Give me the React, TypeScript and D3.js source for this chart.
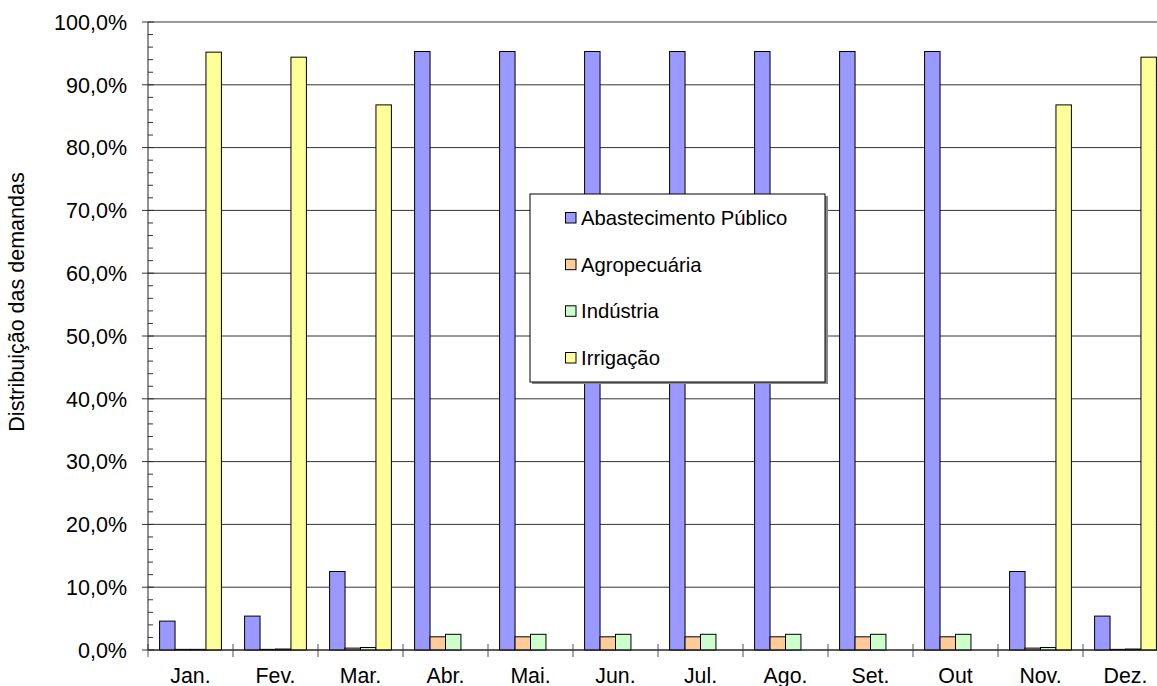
import React from "react";
import * as d3 from "d3";

const months = ["Jan.", "Fev.", "Mar.", "Abr.", "Mai.", "Jun.", "Jul.", "Ago.", "Set.", "Out", "Nov.", "Dez."];
const seriesNames = ["Abastecimento Público", "Agropecuária", "Indústria", "Irrigação"];
const seriesColors = ["#9999FF", "#FFCC99", "#CCFFCC", "#FFFF99"];
const abastecimento = [4.6, 5.4, 12.5, 95.3, 95.3, 95.3, 95.3, 95.3, 95.3, 95.3, 12.5, 5.4];
const agropecuaria = [0.1, 0.1, 0.3, 2.1, 2.1, 2.1, 2.1, 2.1, 2.1, 2.1, 0.3, 0.1];
const industria = [0.1, 0.15, 0.4, 2.5, 2.5, 2.5, 2.5, 2.5, 2.5, 2.5, 0.4, 0.15];
const irrigacao = [95.2, 94.4, 86.8, 0, 0, 0, 0, 0, 0, 0, 86.8, 94.4];
const yTicks = [0, 10, 20, 30, 40, 50, 60, 70, 80, 90, 100];

const W = 1157, H = 686;
const left = 148, top = 22, bottom = 650, right = 1168;

export default function App() {
  const x = d3.scaleBand<string>().domain(months).range([left, right]).paddingInner(0).paddingOuter(0);
  const y = d3.scaleLinear().domain([0, 100]).range([bottom, top]);
  const bw = x.bandwidth();
  const barW = bw / 5.5;
  const series = [abastecimento, agropecuaria, industria, irrigacao];
  const fmt = (v: number) => v.toFixed(1).replace(".", ",") + "%";
  const minor = d3.range(0, 100, 2).filter((v) => v % 10 !== 0);
  const font = "Arial, Liberation Sans, sans-serif";
  const legY = [225, 271.7, 318.3, 365];

  return (
    <svg width={W} height={H} style={{ position: "absolute", left: 0, top: 0, background: "#fff" }} fontFamily={font}>
      <rect x={0} y={0} width={W} height={H} fill="#fff" />
      {yTicks.map((t) => (
        <line key={"g" + t} x1={left} x2={right} y1={y(t)} y2={y(t)} stroke="#333" strokeWidth={1} />
      ))}
      {minor.map((t) => (
        <line key={"m" + t} x1={left} x2={left + 5} y1={y(t)} y2={y(t)} stroke="#333" strokeWidth={1} />
      ))}
      {yTicks.map((t) => (
        <g key={"yt" + t}>
          <line x1={left - 6} x2={left + 6} y1={y(t)} y2={y(t)} stroke="#333" strokeWidth={1} />
          <text x={127} y={y(t) + 7.8} textAnchor="end" fontSize={21.5} fill="#000">{fmt(t)}</text>
        </g>
      ))}
      {months.map((m, i) => (
        <g key={m}>
          {series.map((s, k) => {
            const v = s[i];
            if (v <= 0) return null;
            const bx = (x(m) as number) + barW * 0.75 + k * barW;
            return (
              <rect key={k} x={bx} y={y(v)} width={barW} height={bottom - y(v)} fill={seriesColors[k]} stroke="#000" strokeWidth={1} />
            );
          })}
          <line x1={x(m) as number} x2={x(m) as number} y1={bottom - 6} y2={bottom + 7} stroke="#555" strokeWidth={1} />
          <text x={(x(m) as number) + bw / 2} y={683} textAnchor="middle" fontSize={21.3} fill="#000">{m}</text>
        </g>
      ))}
      <line x1={left} x2={left} y1={top} y2={bottom} stroke="#222" strokeWidth={1} />
      <line x1={left} x2={right} y1={bottom} y2={bottom} stroke="#222" strokeWidth={1} />
      <text transform={`translate(24,302) rotate(-90)`} textAnchor="middle" fontSize={21.5} fill="#000">Distribuição das demandas</text>
      <g>
        <rect x={532} y={196} width={296} height={188} fill="#888" />
        <rect x={530} y={194} width={295} height={188} fill="#fff" stroke="#000" strokeWidth={1} />
        {seriesNames.map((n, k) => (
          <g key={n}>
            <rect x={565.5} y={legY[k] - 12.5} width={10.5} height={10.5} fill={seriesColors[k]} stroke="#000" strokeWidth={1} />
            <text x={581} y={legY[k]} fontSize={20.3} fill="#000">{n}</text>
          </g>
        ))}
      </g>
    </svg>
  );
}
